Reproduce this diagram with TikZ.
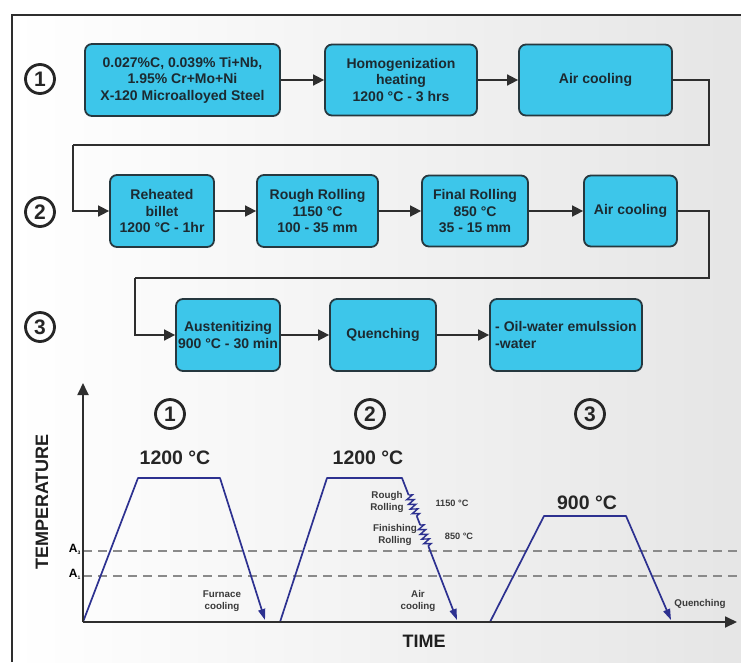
\documentclass[tikz,border=0pt]{standalone}
\usepackage{fontspec}
\setmainfont{Liberation Sans}
\usetikzlibrary{arrows.meta,decorations.pathmorphing,calc}
\definecolor{boxfill}{HTML}{3DC6EA}
\definecolor{boxline}{HTML}{26383F}
\definecolor{boxtext}{HTML}{1C2A31}
\definecolor{linegray}{HTML}{2E2E2E}
\definecolor{navy}{HTML}{2D3190}
\definecolor{dashgray}{HTML}{8A8A8A}
\definecolor{labgray}{HTML}{3A3A3A}
\begin{document}
\begin{tikzpicture}[x=1pt,y=-1pt,
  proc/.style={draw=boxline, fill=boxfill, line width=1.8pt, rounded corners=7pt,
    align=center, text=boxtext, inner sep=2pt,
    font=\bfseries\fontsize{14}{16.5}\selectfont},
  arr/.style={draw=linegray, line width=1.7pt, -{Triangle[length=11pt,width=11pt]}},
  conn/.style={draw=linegray, line width=1.7pt},
  circnum/.style={circle, draw=black!85, line width=2.8pt, minimum size=29pt, inner sep=0pt,
    text=black!85, font=\bfseries\fontsize{21}{21}\selectfont},
  axis/.style={draw=linegray, line width=1.8pt, -{Triangle[length=12pt,width=11pt]}},
  curve/.style={draw=navy, line width=1.7pt, line join=round},
  curvearr/.style={curve, -{Triangle[length=11pt,width=7pt]}},
  zz/.style={draw=navy, line width=1.4pt, decorate, decoration={zigzag, segment length=5pt, amplitude=3.5pt}},
  dashln/.style={draw=dashgray, line width=1.3pt, dash pattern=on 9pt off 6pt},
  bigt/.style={font=\bfseries\fontsize{19.5}{19.5}\selectfont, text=black!85},
  smallt/.style={font=\bfseries\fontsize{9.8}{11.5}\selectfont, text=labgray, align=center},
  tempt/.style={font=\bfseries\fontsize{9.2}{11}\selectfont, text=labgray},
  axlab/.style={font=\bfseries\fontsize{18}{18}\selectfont, text=black!88}
]
\useasboundingbox (0,0) rectangle (741,662);
\fill[white] (0,0) rectangle (741,662);
\shade[left color=white, right color=black!10] (12,15) rectangle (741,662);
\draw[linegray, line width=1.6pt] (12,662) -- (12,15) -- (741,15);

% circled numbers (rows)
\node[circnum] (n1) at (40,79) {1};
\node[circnum] (n2) at (40,212) {2};
\node[circnum] (n3) at (40,327) {3};

% row 1
\node[proc, minimum width=195pt, minimum height=72pt] (b1) at (182.5,80) {0.027\%C, 0.039\% Ti+Nb,\\1.95\% Cr+Mo+Ni\\X-120 Microalloyed Steel};
\node[proc, minimum width=152pt, minimum height=71pt] (b2) at (401,80) {Homogenization\\heating\\1200 °C - 3 hrs};
\node[proc, minimum width=153pt, minimum height=71pt] (b3) at (595.5,80) {Air cooling};
% row 2
\node[proc, minimum width=104pt, minimum height=72pt] (r1) at (162,211) {Reheated\\billet\\1200 °C - 1hr};
\node[proc, minimum width=121pt, minimum height=72pt] (r2) at (317.5,211) {Rough Rolling\\1150 °C\\100 - 35 mm};
\node[proc, minimum width=106pt, minimum height=71pt] (r3) at (475,211) {Final Rolling\\850 °C\\35 - 15 mm};
\node[proc, minimum width=93pt, minimum height=71pt] (r4) at (630.5,211) {Air cooling};
% row 3
\node[proc, minimum width=104pt, minimum height=72pt] (q1) at (228,335) {Austenitizing\\900 °C - 30 min};
\node[proc, minimum width=106pt, minimum height=72pt] (q2) at (383,335) {Quenching};
\node[proc, minimum width=152pt, minimum height=72pt, align=left] (q3) at (566,335) {- Oil-water emulssion\\-water};

% connectors
\draw[arr] (b1) -- (b2);
\draw[arr] (b2) -- (b3);
\coordinate (t1) at (709,145);
\coordinate (t2) at (73,145);
\draw[conn] (b3.east) -| (t1) -- (t2);
\draw[arr] (t2) |- (r1.west);
\draw[arr] (r1) -- (r2);
\draw[arr] (r2) -- (r3);
\draw[arr] (r3) -- (r4);
\coordinate (t3) at (709,278);
\coordinate (t4) at (135,278);
\draw[conn] (r4.east) -| (t3) -- (t4);
\draw[arr] (t4) |- (q1.west);
\draw[arr] (q1) -- (q2);
\draw[arr] (q2) -- (q3);

% graph
\coordinate (o) at (83,622);
\coordinate (ytop) at (83,383);
\coordinate (xend) at (737,622);
\draw[dashln] (83,551) -- (741,551);
\draw[dashln] (83,576) -- (741,576);
\node[font=\bfseries\fontsize{12}{12}\selectfont, anchor=east, inner sep=1pt] (a3) at (82,549) {A\textsubscript{\fontsize{5}{5}\selectfont 3}};
\node[font=\bfseries\fontsize{12}{12}\selectfont, anchor=east, inner sep=1pt] (a1) at (82,574) {A\textsubscript{\fontsize{5}{5}\selectfont 1}};

% cycle 1
\coordinate (p1) at (138,478);
\coordinate (p2) at (220,478);
\coordinate (p3) at (265,620);
\draw[curvearr] (o) -- (p1) -- (p2) -- (p3);
% cycle 2
\coordinate (s0) at (280,622);
\coordinate (s1) at (327,478);
\coordinate (s2) at (402,478);
\coordinate (z1) at (408.6,495);
\coordinate (z2) at (417.1,517);
\coordinate (z3) at (420.2,525);
\coordinate (z4) at (428.7,547);
\coordinate (s3) at (457,620);
\draw[curve] (s0) -- (s1) -- (s2) -- (z1);
\draw[zz] (z1) -- (z2);
\draw[curve] (z2) -- (z3);
\draw[zz] (z3) -- (z4);
\draw[curvearr] (z4) -- (s3);
% cycle 3
\coordinate (u0) at (490,622);
\coordinate (u1) at (544,516);
\coordinate (u2) at (626,516);
\coordinate (u3) at (671,620);
\draw[curvearr] (u0) -- (u1) -- (u2) -- (u3);

\draw[axis] (o) -- (ytop);
\draw[axis] (o) -- (xend);

\node[axlab, rotate=90] (ylab) at (42,502) {TEMPERATURE};
\node[axlab] (xlab) at (424,641) {TIME};

\node[circnum] (g1) at (170,414) {1};
\node[circnum] (g2) at (370,414) {2};
\node[circnum] (g3) at (590,414) {3};
\node[bigt] (tt1) at (175,458) {1200 °C};
\node[bigt] (tt2) at (368,458) {1200 °C};
\node[bigt] (tt3) at (587,503) {900 °C};

\node[smallt] (fc) at (222,601) {Furnace\\cooling};
\node[smallt] (rr) at (387,502) {Rough\\Rolling};
\node[tempt] (t1150) at (452,503) {1150 °C};
\node[smallt] (fr) at (395,535) {Finishing\\Rolling};
\node[tempt] (t850) at (459,536) {850 °C};
\node[smallt] (ac) at (418,601) {Air\\cooling};
\node[smallt] (qu) at (700,604) {Quenching};
\end{tikzpicture}
\end{document}
